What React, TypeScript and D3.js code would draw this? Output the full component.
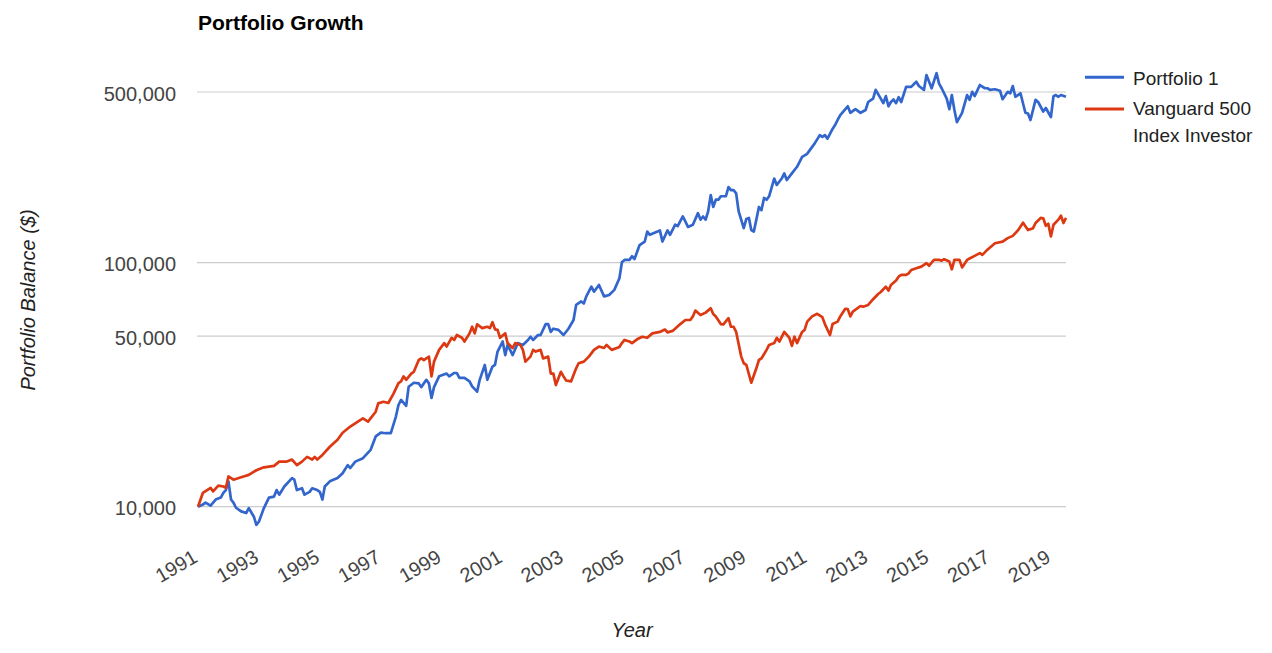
import React from 'react';
import * as d3 from 'd3';

// monthly balances ($10,000 start, Jan 1991)
const portfolio1: [string, number][] = [
  ['1991-01', 10000], ['1991-03', 10200], ['1991-04', 10400], ['1991-06', 10100], ['1991-08', 10700],
  ['1991-10', 10900], ['1991-11', 11400], ['1991-12', 11700], ['1992-01', 12700], ['1992-02', 10700],
  ['1992-03', 10400], ['1992-04', 9900], ['1992-06', 9570], ['1992-08', 9420], ['1992-09', 9870],
  ['1992-11', 9100], ['1992-12', 8430], ['1993-01', 8700], ['1993-03', 9870], ['1993-05', 10900],
  ['1993-07', 11000], ['1993-08', 11700], ['1993-09', 11200], ['1993-11', 12100], ['1994-02', 13100],
  ['1994-03', 12900], ['1994-04', 11700], ['1994-06', 11900], ['1994-07', 11200], ['1994-09', 11500],
  ['1994-10', 11900], ['1994-12', 11700], ['1995-01', 11500], ['1995-02', 10700], ['1995-03', 12100],
  ['1995-05', 12700], ['1995-08', 13100], ['1995-10', 13700], ['1995-12', 14800], ['1996-01', 14400],
  ['1996-03', 15300], ['1996-06', 15800], ['1996-09', 17100], ['1996-11', 19400], ['1997-01', 20100],
  ['1997-03', 20000], ['1997-05', 20000], ['1997-07', 23400], ['1997-08', 26100], ['1997-09', 27400],
  ['1997-11', 25900], ['1997-12', 31000], ['1998-02', 32200], ['1998-04', 32000], ['1998-05', 30900],
  ['1998-07', 33100], ['1998-08', 32000], ['1998-09', 27900], ['1998-10', 30900], ['1998-12', 34200],
  ['1999-03', 35100], ['1999-04', 34200], ['1999-06', 35300], ['1999-07', 35300], ['1999-08', 33700],
  ['1999-10', 33700], ['1999-12', 32600], ['2000-01', 31100], ['2000-03', 29600], ['2000-04', 33100],
  ['2000-06', 38100], ['2000-07', 33100], ['2000-09', 37500], ['2000-10', 38100], ['2000-11', 43200],
  ['2001-01', 47500], ['2001-02', 41800], ['2001-03', 46000], ['2001-05', 41800], ['2001-07', 46800],
  ['2001-09', 46000], ['2001-11', 48200], ['2001-12', 49700], ['2002-01', 48200], ['2002-03', 50500],
  ['2002-04', 50500], ['2002-06', 56000], ['2002-07', 56000], ['2002-08', 52000], ['2002-09', 53600],
  ['2002-11', 53000], ['2003-01', 50500], ['2003-03', 53600], ['2003-05', 58200], ['2003-06', 67100],
  ['2003-08', 69300], ['2003-09', 68000], ['2003-10', 72700], ['2003-12', 79700], ['2004-01', 76000],
  ['2004-03', 81000], ['2004-05', 72700], ['2004-07', 73700], ['2004-09', 77300], ['2004-11', 86300],
  ['2004-12', 100300], ['2005-01', 102600], ['2005-03', 102600], ['2005-04', 106200], ['2005-05', 103400],
  ['2005-07', 118000], ['2005-09', 122000], ['2005-10', 134000], ['2005-11', 130000], ['2006-02', 134000],
  ['2006-03', 135500], ['2006-04', 122000], ['2006-06', 135500], ['2006-07', 130000], ['2006-09', 143000],
  ['2006-10', 141000], ['2006-12', 154500], ['2007-01', 147400], ['2007-02', 140000], ['2007-04', 143000],
  ['2007-06', 159500], ['2007-07', 150000], ['2007-08', 154500], ['2007-09', 150000], ['2007-10', 162000],
  ['2007-11', 189000], ['2007-12', 169000], ['2008-01', 181000], ['2008-02', 181000], ['2008-03', 187000],
  ['2008-05', 187000], ['2008-06', 204000], ['2008-07', 198000], ['2008-08', 198000], ['2008-09', 192000],
  ['2008-10', 162000], ['2008-12', 138400], ['2009-01', 151000], ['2009-02', 152400], ['2009-03', 136000],
  ['2009-04', 134000], ['2009-05', 150000], ['2009-06', 169000], ['2009-07', 164000], ['2009-08', 184000],
  ['2009-09', 181000], ['2009-10', 187000], ['2009-12', 221000], ['2010-01', 208000], ['2010-03', 221000],
  ['2010-04', 232000], ['2010-05', 218000], ['2010-07', 232000], ['2010-09', 247000], ['2010-11', 271000],
  ['2011-01', 279000], ['2011-02', 289000], ['2011-04', 308000], ['2011-06', 333000], ['2011-07', 327000],
  ['2011-08', 333000], ['2011-09', 322000], ['2011-11', 353000], ['2011-12', 366000], ['2012-01', 384000],
  ['2012-02', 402000], ['2012-05', 437000], ['2012-06', 411000], ['2012-08', 425000], ['2012-10', 411000],
  ['2012-12', 422000], ['2013-01', 455000], ['2013-03', 470000], ['2013-04', 510000], ['2013-06', 470000],
  ['2013-07', 450000], ['2013-08', 481000], ['2013-09', 437000], ['2013-10', 455000], ['2013-11', 466000],
  ['2013-12', 450000], ['2014-01', 476000], ['2014-02', 455000], ['2014-04', 525000], ['2014-06', 525000],
  ['2014-08', 551000], ['2014-09', 529000], ['2014-11', 510000], ['2014-12', 587000], ['2015-02', 518000],
  ['2015-04', 597000], ['2015-05', 541000], ['2015-06', 518000], ['2015-08', 470000], ['2015-09', 425000],
  ['2015-10', 486000], ['2015-11', 422000], ['2015-12', 376000], ['2016-02', 411000], ['2016-04', 486000],
  ['2016-05', 464000], ['2016-06', 501000], ['2016-07', 481000], ['2016-09', 534000], ['2016-11', 518000],
  ['2016-12', 518000], ['2017-01', 510000], ['2017-03', 513000], ['2017-05', 506000], ['2017-06', 467000],
  ['2017-08', 501000], ['2017-09', 494000], ['2017-10', 529000], ['2017-11', 478000], ['2018-01', 494000],
  ['2018-03', 411000], ['2018-04', 408000], ['2018-05', 384000], ['2018-07', 464000], ['2018-08', 455000],
  ['2018-10', 416000], ['2018-11', 430000], ['2019-01', 395000], ['2019-02', 481000], ['2019-03', 486000],
  ['2019-04', 478000], ['2019-05', 486000], ['2019-07', 478000],
];

const vanguard500: [string, number][] = [
  ['1991-01', 10000], ['1991-03', 11400], ['1991-06', 11950], ['1991-07', 11550], ['1991-09', 12200],
  ['1991-11', 12100], ['1991-12', 11950], ['1992-01', 13300], ['1992-03', 12900], ['1992-06', 13200],
  ['1992-07', 13300], ['1992-09', 13500], ['1992-12', 14100], ['1993-03', 14500], ['1993-07', 14700],
  ['1993-09', 15300], ['1993-12', 15300], ['1994-02', 15600], ['1994-04', 14800], ['1994-06', 15300],
  ['1994-08', 16000], ['1994-10', 15600], ['1994-11', 16000], ['1994-12', 15600], ['1995-02', 16300],
  ['1995-05', 17600], ['1995-08', 18800], ['1995-10', 20100], ['1996-01', 21300], ['1996-04', 22300],
  ['1996-06', 23000], ['1996-08', 22300], ['1996-11', 24500], ['1996-12', 26500], ['1997-02', 26900],
  ['1997-04', 26600], ['1997-06', 29000], ['1997-08', 32100], ['1997-09', 32600], ['1997-10', 34200],
  ['1997-11', 33100], ['1998-01', 35100], ['1998-02', 35700], ['1998-04', 39900], ['1998-05', 40500],
  ['1998-06', 39900], ['1998-08', 41200], ['1998-09', 34200], ['1998-10', 39300], ['1998-12', 43900],
  ['1999-02', 46800], ['1999-03', 45300], ['1999-05', 49200], ['1999-06', 48200], ['1999-07', 50500],
  ['1999-09', 49200], ['1999-10', 47500], ['1999-12', 51300], ['2000-01', 54600], ['2000-02', 51300],
  ['2000-03', 55900], ['2000-05', 53900], ['2000-07', 54600], ['2000-08', 53900], ['2000-09', 57000],
  ['2000-10', 53300], ['2000-11', 53000], ['2000-12', 49200], ['2001-02', 51300], ['2001-03', 46800],
  ['2001-05', 44700], ['2001-06', 46800], ['2001-08', 46000], ['2001-09', 43900], ['2001-10', 39300],
  ['2001-12', 41200], ['2002-01', 43900], ['2002-02', 43200], ['2002-04', 43900], ['2002-05', 40500],
  ['2002-07', 41200], ['2002-08', 35100], ['2002-09', 35100], ['2002-10', 31500], ['2002-12', 35700],
  ['2003-01', 34200], ['2003-02', 32900], ['2003-04', 32600], ['2003-06', 36900], ['2003-07', 38700],
  ['2003-09', 39300], ['2003-11', 41200], ['2004-01', 43900], ['2004-03', 45300], ['2004-05', 44700],
  ['2004-06', 46000], ['2004-08', 43900], ['2004-10', 44700], ['2004-11', 45100], ['2004-12', 46800],
  ['2005-01', 48200], ['2005-03', 47500], ['2005-04', 46800], ['2005-06', 48500], ['2005-08', 49700],
  ['2005-10', 49200], ['2005-12', 51300], ['2006-03', 52000], ['2006-05', 53200], ['2006-06', 51800],
  ['2006-08', 52500], ['2006-11', 56000], ['2007-01', 58200], ['2007-03', 58200], ['2007-04', 60200],
  ['2007-05', 63600], ['2007-07', 61000], ['2007-09', 62400], ['2007-11', 65000], ['2007-12', 61600],
  ['2008-01', 60200], ['2008-03', 56000], ['2008-04', 55800], ['2008-06', 59200], ['2008-07', 54600],
  ['2008-08', 54600], ['2008-09', 52000], ['2008-11', 41200], ['2008-12', 38700], ['2009-01', 38100],
  ['2009-03', 32200], ['2009-05', 36900], ['2009-06', 39900], ['2009-07', 40500], ['2009-09', 43900],
  ['2009-10', 46000], ['2009-12', 46800], ['2010-01', 49200], ['2010-02', 47500], ['2010-04', 52000],
  ['2010-06', 49200], ['2010-07', 45600], ['2010-08', 49700], ['2010-09', 46800], ['2010-11', 52000],
  ['2010-12', 53000], ['2011-01', 57300], ['2011-03', 60200], ['2011-05', 61700], ['2011-07', 59800],
  ['2011-08', 56000], ['2011-10', 50500], ['2011-11', 56000], ['2012-01', 57300], ['2012-02', 60200],
  ['2012-04', 64700], ['2012-05', 64500], ['2012-06', 60200], ['2012-07', 63000], ['2012-10', 66400],
  ['2012-11', 66000], ['2013-01', 67100], ['2013-03', 70800], ['2013-05', 74400], ['2013-06', 75800],
  ['2013-08', 79700], ['2013-09', 76800], ['2013-10', 81000], ['2013-12', 84400], ['2014-01', 87600],
  ['2014-02', 89000], ['2014-04', 89000], ['2014-05', 90400], ['2014-06', 93300], ['2014-08', 94800],
  ['2014-10', 96300], ['2014-12', 99500], ['2015-01', 97100], ['2015-03', 102600], ['2015-05', 102600],
  ['2015-06', 101900], ['2015-07', 103200], ['2015-09', 101000], ['2015-10', 93900], ['2015-11', 102600],
  ['2016-01', 102600], ['2016-02', 95600], ['2016-04', 102600], ['2016-05', 103900], ['2016-07', 106600],
  ['2016-09', 109400], ['2016-10', 107600], ['2016-12', 113000], ['2017-03', 120000], ['2017-06', 121900],
  ['2017-08', 126000], ['2017-10', 128700], ['2017-12', 135500], ['2018-02', 145800], ['2018-04', 136000],
  ['2018-06', 138400], ['2018-07', 145300], ['2018-09', 152400], ['2018-10', 152000], ['2018-11', 141600],
  ['2018-12', 144300], ['2019-01', 128000], ['2019-02', 143000], ['2019-04', 150000], ['2019-05', 155600],
  ['2019-06', 145300], ['2019-07', 152400],
];

const yearTicks = [1991, 1993, 1995, 1997, 1999, 2001, 2003, 2005, 2007, 2009, 2011, 2013, 2015, 2017, 2019];
const balanceTicks = [10000, 50000, 100000, 500000];
const seriesNames = ['Portfolio 1', 'Vanguard 500 Index Investor'];
const seriesColors = ['#3366cc', '#dc3912'];

const W = 1272;
const H = 653;
const FONT = 'Arial, "Liberation Sans", sans-serif';

const parseMonth = d3.timeParse('%Y-%m');

export default function App() {
  const left = 198;
  const right = 1066;

  const x = d3.scaleTime()
    .domain([new Date(1991, 0, 1), new Date(2019, 6, 1)])
    .range([left, right]);
  const y = d3.scaleLog()
    .domain([10000, 500000])
    .range([506.7, 92]);

  const line = d3.line<[string, number]>()
    .x((d) => x(parseMonth(d[0]) as Date))
    .y((d) => y(d[1]));

  const fmt = d3.format(',');
  const series = [portfolio1, vanguard500];

  return (
    <svg
      width={W}
      height={H}
      style={{ position: 'absolute', left: 0, top: 0, background: '#fff' }}
      fontFamily={FONT}
    >
      <text x={198} y={30} fontSize={21} fontWeight="bold" fill="#000">Portfolio Growth</text>

      {/* gridlines + y labels */}
      {balanceTicks.map((v) => (
        <g key={v}>
          <line x1={left - 1} x2={right} y1={y(v)} y2={y(v)} stroke="#cccccc" strokeWidth={1.2} />
          <text x={176} y={y(v) + 8.5} textAnchor="end" fontSize={20} fill="#444">{fmt(v)}</text>
        </g>
      ))}

      {/* x labels, slanted */}
      {yearTicks.map((yr) => {
        const tx = x(new Date(yr, 0, 1)) + 1;
        return (
          <text key={yr} transform={`translate(${tx},561) rotate(-30)`} textAnchor="end" fontSize={20} fill="#444">
            {yr}
          </text>
        );
      })}

      {/* series */}
      {series.map((s, i) => (
        <path key={i} d={line(s) || ''} fill="none" stroke={seriesColors[i]} strokeWidth={2.7} strokeLinejoin="round" />
      ))}

      {/* axis titles */}
      <text transform="translate(35,300) rotate(-90)" textAnchor="middle" fontSize={20} fontStyle="italic" fill="#222">
        Portfolio Balance ($)
      </text>
      <text x={632} y={637} textAnchor="middle" fontSize={20} fontStyle="italic" fill="#222">Year</text>

      {/* legend */}
      <g>
        <line x1={1085} x2={1124} y1={77.3} y2={77.3} stroke={seriesColors[0]} strokeWidth={3} />
        <text x={1133} y={85} fontSize={19} fill="#222">{seriesNames[0]}</text>
        <line x1={1085} x2={1124} y1={109} y2={109} stroke={seriesColors[1]} strokeWidth={3} />
        <text x={1133} y={115} fontSize={19} fill="#222">Vanguard 500</text>
        <text x={1133} y={141.5} fontSize={19} fill="#222">Index Investor</text>
      </g>
    </svg>
  );
}
